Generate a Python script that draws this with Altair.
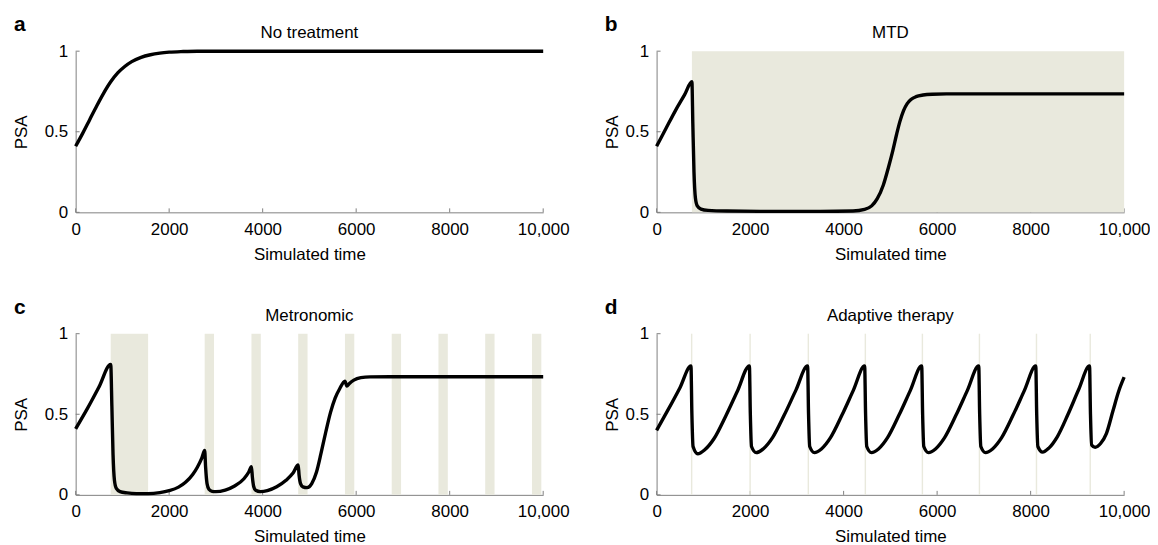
import altair as alt
import pandas as pd

X_TICKS = [0, 2000, 4000, 6000, 8000, 10000]
Y_TICKS = [0, 0.5, 1]

# Panel a: No treatment
A_T = [0, 150, 300, 450, 600, 750, 900, 1050, 1200, 1400, 1600, 1800, 2000, 2300, 2600, 3000, 10000]
A_PSA = [0.41, 0.49, 0.575, 0.66, 0.74, 0.81, 0.865, 0.905, 0.935, 0.962, 0.978, 0.988, 0.994, 0.998, 1.0, 1.0, 1.0]

# Panel b: MTD
B_T = [0, 200, 400, 600, 755, 775, 800, 830, 870, 950, 1100, 1500, 2500, 3500, 4200, 4450, 4600,
       4720, 4850, 4960, 5050, 5130, 5200, 5280, 5360, 5440, 5550, 5700, 5900, 6200, 7000, 10000]
B_PSA = [0.41, 0.52, 0.63, 0.73, 0.81, 0.55, 0.25, 0.09, 0.04, 0.02, 0.012, 0.008, 0.006, 0.006, 0.008, 0.018, 0.04,
         0.085, 0.17, 0.28, 0.38, 0.48, 0.56, 0.63, 0.675, 0.70, 0.718, 0.728, 0.733, 0.735, 0.735, 0.735]
B_BAND_START = [755]
B_BAND_END = [10000]

# Panel c: Metronomic
C_T = [0, 250, 500, 750, 775, 800, 830, 870, 950, 1100, 1300, 1550, 1800, 2000, 2200, 2350, 2500, 2600, 2700,
       2760, 2780, 2810, 2850, 2920, 3000, 3200, 3400, 3600, 3700, 3760, 3780, 3810, 3850, 3950, 4100, 4300,
       4500, 4650, 4760, 4780, 4810, 4860, 4950, 5050, 5150, 5250, 5350, 5450, 5550, 5650, 5760, 5800, 5850,
       5950, 6100, 6300, 7000, 10000]
C_PSA = [0.41, 0.535, 0.67, 0.81, 0.55, 0.25, 0.09, 0.04, 0.02, 0.012, 0.008, 0.008, 0.014, 0.026, 0.048, 0.078,
         0.125, 0.17, 0.23, 0.275, 0.17, 0.07, 0.035, 0.022, 0.02, 0.03, 0.055, 0.10, 0.14, 0.175, 0.11, 0.05,
         0.028, 0.02, 0.026, 0.05, 0.09, 0.135, 0.185, 0.12, 0.07, 0.05, 0.045, 0.07, 0.14, 0.26, 0.39, 0.51,
         0.60, 0.66, 0.705, 0.675, 0.69, 0.712, 0.727, 0.732, 0.733, 0.733]
C_BAND_START = [750, 2760, 3760, 4760, 5760, 6760, 7760, 8760, 9760]
C_BAND_END = [1550, 2960, 3960, 4960, 5960, 6960, 7960, 8960, 9960]

# Panel d: Adaptive therapy
D_T = [0, 250, 500, 735,
       755, 780, 880, 1030, 1230, 1480, 1730, 1985,
       2005, 2030, 2130, 2280, 2480, 2730, 2980, 3230,
       3250, 3275, 3375, 3525, 3720, 3965, 4210, 4450,
       4470, 4495, 4595, 4745, 4940, 5185, 5430, 5670,
       5690, 5715, 5815, 5965, 6160, 6405, 6650, 6890,
       6910, 6935, 7035, 7185, 7380, 7625, 7870, 8110,
       8130, 8155, 8255, 8390, 8570, 8800, 9030, 9260,
       9280, 9305, 9380, 9500, 9620, 9760, 9880, 10000]
D_PSA = [0.40, 0.53, 0.665, 0.80,
         0.50, 0.30, 0.255, 0.28, 0.35, 0.49, 0.645, 0.80,
         0.50, 0.30, 0.262, 0.285, 0.355, 0.495, 0.65, 0.80,
         0.50, 0.30, 0.262, 0.285, 0.355, 0.495, 0.65, 0.80,
         0.50, 0.30, 0.262, 0.285, 0.355, 0.495, 0.65, 0.80,
         0.50, 0.30, 0.262, 0.285, 0.355, 0.495, 0.65, 0.80,
         0.50, 0.30, 0.262, 0.285, 0.355, 0.495, 0.65, 0.80,
         0.50, 0.30, 0.265, 0.29, 0.36, 0.50, 0.655, 0.80,
         0.50, 0.31, 0.295, 0.32, 0.38, 0.52, 0.64, 0.73]
D_BAND_START = [735, 1985, 3230, 4450, 5670, 6890, 8110, 9260]
D_BAND_END = [765, 2015, 3260, 4480, 5700, 6920, 8140, 9290]

W, H = 470, 162
GRAY = "#808080"
BAND = "#E9E9DD"
FONT = "Liberation Sans"
FS = 17


def panel(letter, title, t, psa, bs, be, letter_x, ytitle_x):
    xs = alt.Scale(domain=[0, 10000], nice=False, zero=False)
    ys = alt.Scale(domain=[0, 1], nice=False)
    xaxis = alt.Axis(values=X_TICKS,
                     labelExpr="datum.value >= 10000 ? format(datum.value, ',') : format(datum.value, 'd')",
                     ticks=False, tickSize=0, labelPadding=9, grid=False, domainColor=GRAY,
                     labelFlush=False, labelOverlap=False, labelFontSize=FS, labelColor="#000",
                     title="Simulated time", titleFontSize=FS, titleFontWeight="normal", titleColor="#000",
                     titleY=42, titleBaseline="middle")
    yaxis = alt.Axis(values=Y_TICKS, labelExpr="format(datum.value, '~g')",
                     ticks=False, tickSize=0, labelPadding=8, grid=False, domainColor=GRAY,
                     labelFlush=False, labelOverlap=False, labelFontSize=FS, labelColor="#000",
                     title="PSA", titleFontSize=FS, titleFontWeight="normal", titleColor="#000",
                     titleX=ytitle_x, titleY=H / 2, titleAngle=270, titleAlign="center",
                     titleBaseline="middle")

    layers = []
    xt = pd.DataFrame({"t": X_TICKS})
    layers.append(alt.Chart(xt).mark_rule(color=GRAY, strokeWidth=1).encode(
        x=alt.X("t:Q", scale=xs, axis=xaxis), y=alt.value(H), y2=alt.value(H - 4)))
    yt = pd.DataFrame({"psa": Y_TICKS})
    layers.append(alt.Chart(yt).mark_rule(color=GRAY, strokeWidth=1).encode(
        y=alt.Y("psa:Q", scale=ys, axis=yaxis), x=alt.value(0), x2=alt.value(4)))
    if bs:
        bd = pd.DataFrame({"t": bs, "t2": be})
        layers.append(alt.Chart(bd).mark_rect(color=BAND).encode(
            x=alt.X("t:Q", scale=xs, axis=xaxis), x2="t2:Q", y=alt.value(0), y2=alt.value(H)))
    ld = pd.DataFrame({"t": t, "psa": psa})
    layers.append(alt.Chart(ld).mark_line(color="black", strokeWidth=3.4, interpolate="monotone",
                                          strokeJoin="round").encode(
        x=alt.X("t:Q", scale=xs, axis=xaxis), y=alt.Y("psa:Q", scale=ys, axis=yaxis)))
    td = pd.DataFrame({"label": [title]})
    layers.append(alt.Chart(td).mark_text(fontSize=FS, align="center", baseline="alphabetic",
                                          color="#000", font=FONT).encode(
        text="label:N", x=alt.value(W / 2), y=alt.value(-13)))
    lt = pd.DataFrame({"label": [letter]})
    layers.append(alt.Chart(lt).mark_text(fontSize=21, fontWeight="bold", align="left",
                                          baseline="alphabetic", color="#000", font=FONT).encode(
        text="label:N", x=alt.value(letter_x), y=alt.value(-20)))
    return alt.layer(*layers).properties(width=W, height=H)


pa = panel("a", "No treatment", A_T, A_PSA, [], [], -62, -54)
pb = panel("b", "MTD", B_T, B_PSA, B_BAND_START, B_BAND_END, -52, -44)
pc = panel("c", "Metronomic", C_T, C_PSA, C_BAND_START, C_BAND_END, -62, -54)
pd_ = panel("d", "Adaptive therapy", D_T, D_PSA, D_BAND_START, D_BAND_END, -52, -44)

row1 = alt.hconcat(pa, pb, spacing=35)
row2 = alt.hconcat(pc, pd_, spacing=35)
chart = alt.vconcat(row1, row2, spacing=35).properties(
    padding={"left": 5, "top": 5, "right": 0, "bottom": 0}
).configure(font=FONT).configure_view(stroke=None)

chart.save("out.html", embed_options={"renderer": "svg", "actions": False})
